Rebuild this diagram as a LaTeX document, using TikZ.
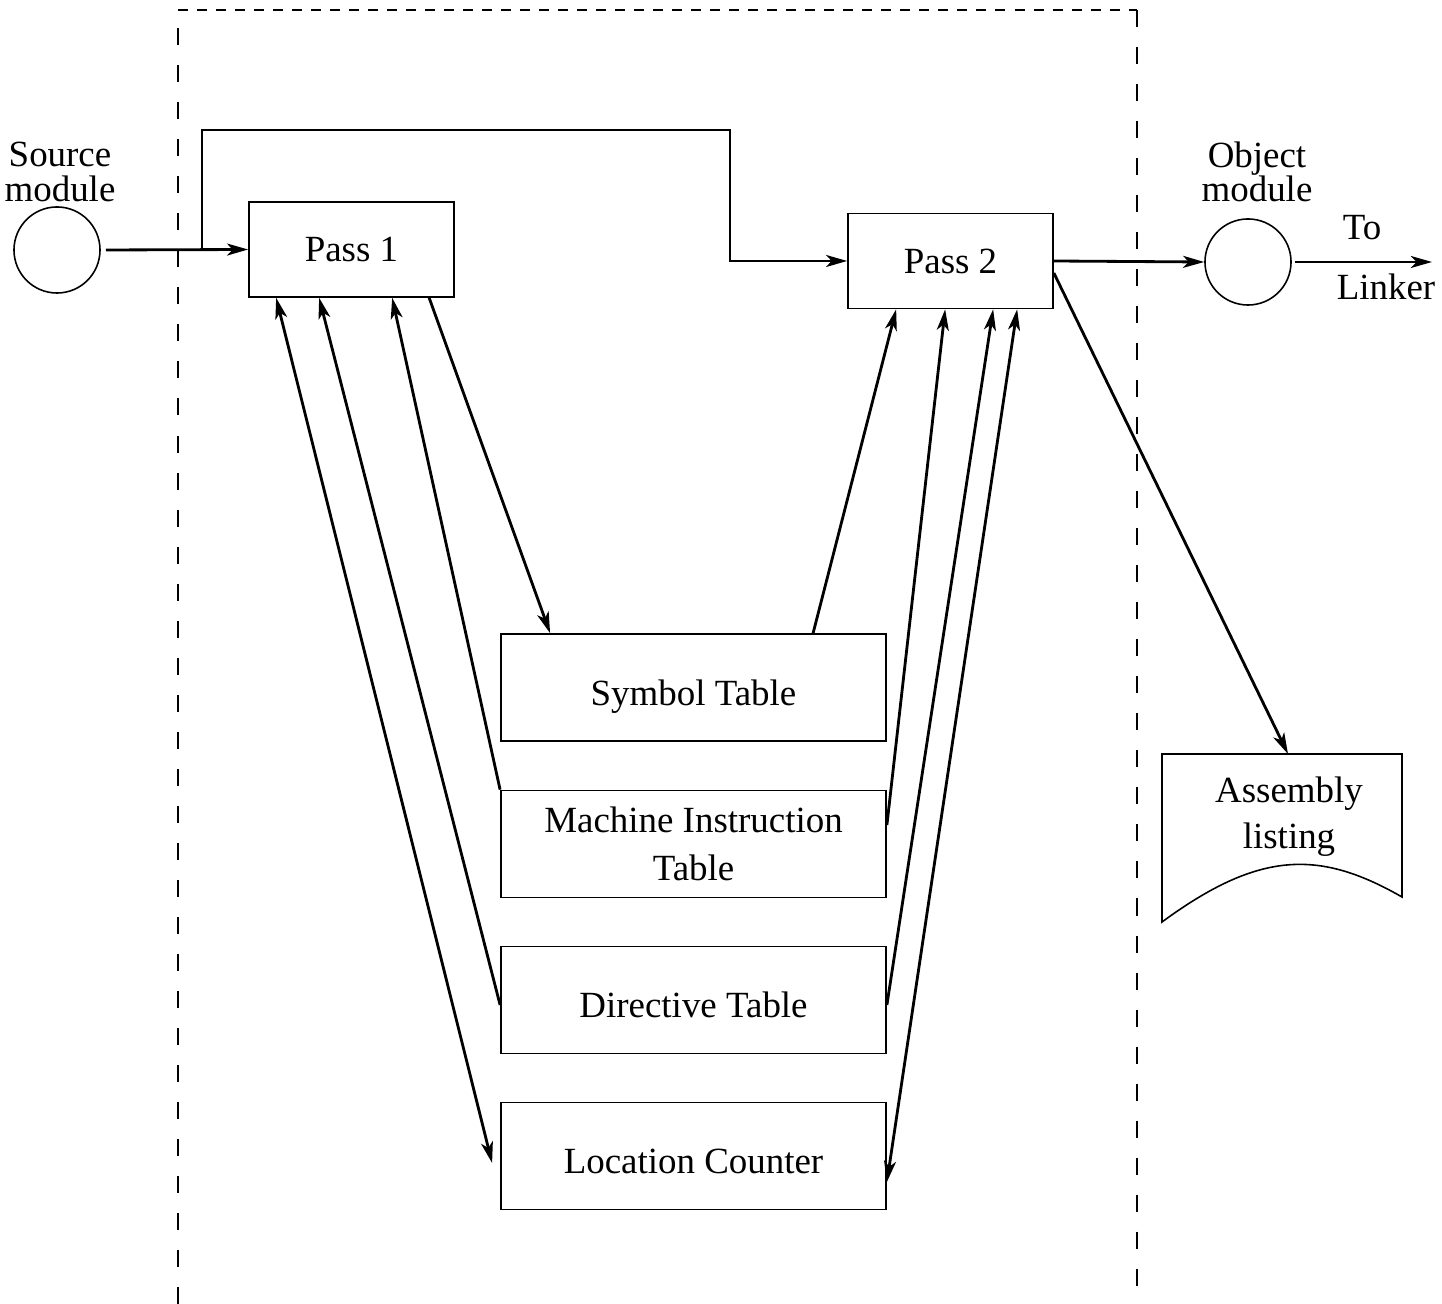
\documentclass[tikz,border=0pt]{standalone}
\usepackage{fontspec}
\setmainfont{Liberation Serif}
\usepackage{tikz}
\usetikzlibrary{arrows.meta,calc}

\begin{document}
\begin{tikzpicture}[x=0.01cm,y=-0.01cm,
    font=\fontsize{10.5}{12}\selectfont,
    >={Stealth[length=6pt,width=3.4pt,inset=1.6pt]},
    box/.style={draw,line width=0.45pt,inner sep=0pt},
    pass/.style={box,minimum width=2.05cm,minimum height=0.95cm},
    tbl/.style={box,minimum width=3.85cm,minimum height=1.07cm},
    onetbl/.style={tbl,text height=10pt,text depth=0pt},
    disk/.style={draw,line width=0.45pt,circle,minimum size=0.86cm,inner sep=0pt},
    lbl/.style={align=center,inner sep=0pt},
    twoline/.style={lbl,font=\fontsize{10.5}{9.8}\selectfont},
    flow/.style={line width=0.8pt,->},
    both/.style={line width=0.8pt,<->}]
  \useasboundingbox (0,0) rectangle (1442,1304);
  % assembler boundary
  \draw[line width=0.4pt,dash pattern=on 0.17cm off 0.2cm] (178,1304) -- (178,10);
  \draw[line width=0.4pt,dash pattern=on 0.17cm off 0.2cm] (1137,10) -- (1137,1304);
  \draw[line width=0.4pt,dash pattern=on 0.1cm off 0.09cm] (178,10) -- (1137,10);

  % input and output
  \node[disk] (src) at (57,250) {};
  \node[twoline] (srclbl) at (60,172) {Source\\module};
  \node[disk] (obj) at (1248,262) {};
  \node[twoline] (objlbl) at (1257,172) {Object\\module};
  \node[lbl] (to) at (1362,228) {To};
  \node[lbl] (linker) at (1386,287) {Linker};
  \coordinate (tolinker) at (1432,262);

  % the two passes
  \node[pass] (p1) at (351.5,249.5) {Pass 1};
  \node[pass] (p2) at (950.5,261) {Pass 2};

  % tables
  \node[onetbl] (sym) at (693.5,687.5) {Symbol Table};
  \node[tbl,lbl,font=\fontsize{10.5}{13.6}\selectfont] (mit) at (693.5,844) {Machine Instruction\\Table};
  \node[onetbl] (dir) at (693.5,1000) {Directive Table};
  \node[onetbl] (loc) at (693.5,1156) {Location Counter};

  % listing
  \draw[line width=0.45pt] (1162,754) -- (1402,754) -- (1402,897)
    .. controls (1320,850) and (1260,850) .. (1162,922) -- cycle;
  \node[twoline,font=\fontsize{10.5}{13}\selectfont] (lst) at (1289,817) {Assembly\\ listing};
  \coordinate (lsttop) at (1288,754);

  % main flow
  \coordinate (split) at (202,250);
  \draw[flow] ($(src.east)+(5,0)$) -- (p1.west);
  \draw[flow] (split) |- (730,130) |- (p2.west);
  \draw[flow] (p2.east) -- (obj.west);
  \draw[flow] ($(obj.east)+(3,0)$) -- (tolinker);
  \draw[flow] ($(p2.east)+(0,12)$) -- (lsttop);

  % pass 1 and the tables
  \draw[both] ($(p1.south west)+(28,0)$) -- ($(loc.west)+(-8,7)$);
  \draw[flow] ($(dir.west)+(0,5)$) -- ($(p1.south west)+(71,0)$);
  \draw[flow] (mit.north west) -- ($(p1.south west)+(144,0)$);
  \draw[flow] ($(p1.south west)+(181,0)$) -- ($(sym.north west)+(50,0)$);

  % pass 2 and the tables
  \draw[flow] ($(sym.north west)+(313,0)$) -- ($(p2.south west)+(49,0)$);
  \draw[flow] ($(mit.east)+(0,-19)$) -- ($(p2.south west)+(98,0)$);
  \draw[flow] ($(dir.east)+(0,5)$) -- ($(p2.south west)+(146,0)$);
  \draw[both] ($(p2.south west)+(170,0)$) -- ($(loc.east)+(0,26)$);
\end{tikzpicture}
\end{document}
